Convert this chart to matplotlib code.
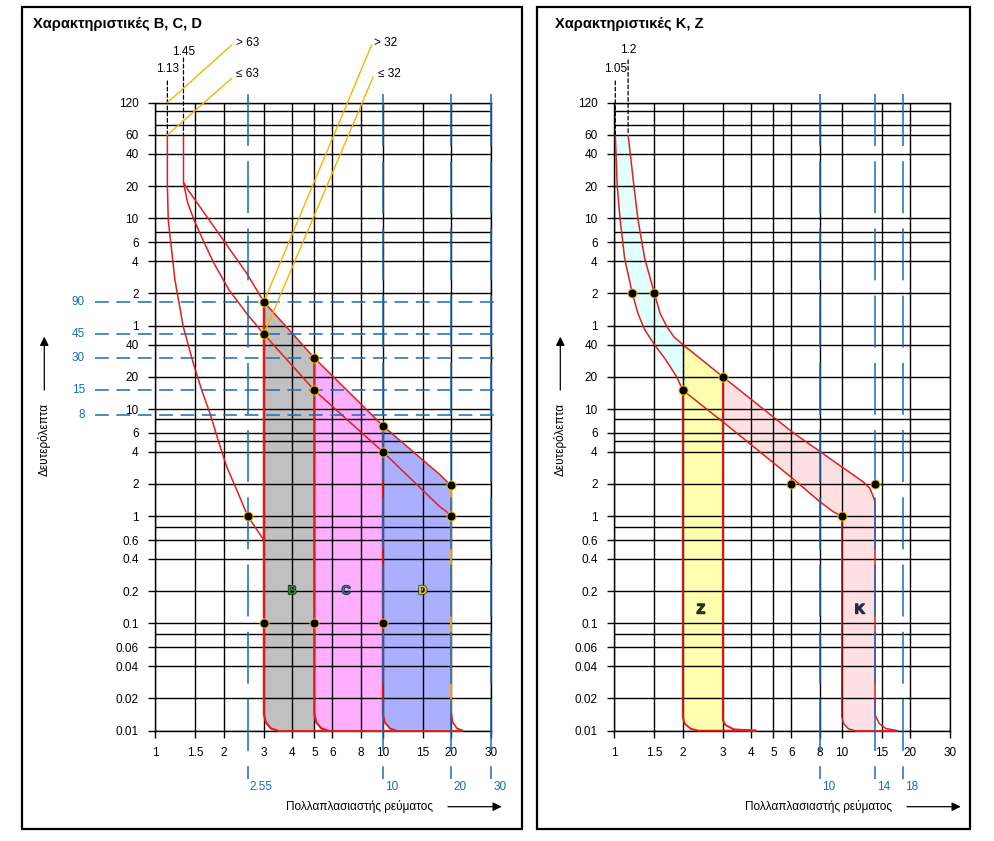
import matplotlib
matplotlib.use("Agg")
import matplotlib.pyplot as plt
import matplotlib.patheffects as pe
from matplotlib.patches import Rectangle
from matplotlib.ticker import NullFormatter

plt.rcParams["font.family"] = ["Liberation Sans", "DejaVu Sans"]

RED = "#e0201c"
BLUE = "#1a6bb5"
YEL = "#f5b400"

# axes: x = multiple of rated current, y = time in seconds (upper part labelled in minutes)
x_ticks = [1, 1.5, 2, 3, 4, 5, 6, 8, 10, 15, 20, 30]
x_labels = ["1", "1.5", "2", "3", "4", "5", "6", "8", "10", "15", "20", "30"]
y_ticks = [7200, 3600, 2400, 1200, 600, 360, 240, 120, 60, 40, 20, 10, 6, 4, 2, 1,
           0.6, 0.4, 0.2, 0.1, 0.06, 0.04, 0.02, 0.01]
y_labels = ["120", "60", "40", "20", "10", "6", "4", "2", "1", "40", "20", "10", "6", "4",
            "2", "1", "0.6", "0.4", "0.2", "0.1", "0.06", "0.04", "0.02", "0.01"]
y_minor = [6000, 4500, 450, 8, 5, 0.8, 0.08]

# ---- left panel: B, C, D
bcd_thr_x = [1.13, 1.33]
bcd_thr_labels = ["1.13", "1.45"]
therm_x = [1.13, 1.13, 1.14, 1.22, 1.327, 1.469, 1.6, 1.74, 1.89, 2.06, 2.28, 2.55, 3]
therm_s = [3600, 1200, 580, 160, 58.6, 26.7, 15, 9.1, 5.1, 2.9, 1.76, 1.0, 0.6]
upper_x = [1.33, 1.33, 1.41, 1.57, 1.81, 2.11, 2.52, 3, 5, 10, 17.8, 19.4, 20]
upper_s = [3600, 1300, 1065, 771, 502, 316, 185, 100, 30, 7, 2.45, 2.05, 1.85]
lower_x = [1.33, 1.34, 1.39, 1.48, 1.62, 1.81, 2.11, 2.52, 3, 5, 10, 17.8, 19.1, 20, 20]
lower_s = [1300, 1185, 830, 580, 377, 229, 129, 78, 50, 15, 4, 1.23, 1.1, 1.0, 0.7]
edge_B_x = [3, 3, 3.06, 3.22, 3.46]
edge_B_s = [100, 0.0144, 0.012, 0.0105, 0.01]
edge_C_x = [5, 5, 5.1, 5.37, 5.77]
edge_C_s = [30, 0.0144, 0.012, 0.0105, 0.01]
edge_D_x = [10, 10, 10.2, 10.74, 11.5]
edge_D_s = [7, 0.0144, 0.012, 0.0105, 0.01]
edge_Dr_x = [20, 20, 20.3, 21.2, 22.6]
edge_Dr_s = [1.85, 0.0144, 0.012, 0.0105, 0.01]
bcd_dots_x = [3, 3, 5, 5, 10, 10, 20, 20, 2.55, 3, 5, 10]
bcd_dots_s = [100, 50, 30, 15, 7, 4, 1.95, 1, 1, 0.1, 0.1, 0.1]
bcd_blue_v = [2.55, 10, 20, 30]
bcd_blue_v_labels = ["2.55", "10", "20", "30"]
bcd_blue_h = [100, 50, 30, 15, 8.8]
bcd_blue_h_labels = ["90", "45", "30", "15", "8"]
yel_labels = ["> 63", "≤ 63", "> 32", "≤ 32"]
yel_x = [1.13, 1.13, 3, 3]
yel_s = [7200, 3600, 100, 50]

# ---- right panel: K, Z
kz_thr_x = [1.01, 1.15]
kz_thr_labels = ["1.05", "1.2"]
kz_lo_x = [1.01, 1.03, 1.06, 1.11, 1.2, 1.27, 1.36, 1.5, 1.68, 1.88, 2, 3, 5.95, 8, 9.19,
           10, 10, 10, 10.2, 10.7, 11.4]
kz_lo_s = [3600, 1200, 590, 255, 120, 78, 55, 40, 29, 20, 15, 7.6, 2.34, 1.37, 1.1,
           1, 0.8, 0.0135, 0.0116, 0.0104, 0.01]
kz_hi_x = [1.15, 1.22, 1.27, 1.36, 1.5, 1.59, 1.7, 1.83, 2, 3, 6.03, 9.75, 12.4, 13.3,
           13.76, 14, 14, 14.6, 15.6, 17.6]
kz_hi_s = [3600, 1200, 590, 255, 120, 78, 59, 47, 40, 20, 6.15, 3.0, 2.1, 1.82,
           1.52, 1.37, 0.014, 0.0117, 0.0105, 0.01]
edge_Z_x = [2, 2, 2.04, 2.17, 2.35, 4.2, 3.35, 3.08, 3, 3]
edge_Z_s = [15, 0.0135, 0.0116, 0.0104, 0.01, 0.01, 0.0103, 0.0113, 0.0126, 20]
kz_dots_x = [1.2, 1.5, 2, 3, 6, 14, 10]
kz_dots_s = [120, 120, 15, 20, 2, 2, 1]
kz_blue_v = [8, 14, 18.5]
kz_blue_v_labels = ["10", "14", "18"]


def setup_axes(ax):
    ax.set_xscale("log")
    ax.set_yscale("log")
    ax.set_xlim(1, 30)
    ax.set_ylim(0.01, 7200)
    ax.set_xticks(x_ticks, x_labels)
    ax.set_yticks(y_ticks, y_labels)
    ax.set_xticks([], minor=True)
    ax.set_yticks(y_minor, minor=True)
    ax.xaxis.set_minor_formatter(NullFormatter())
    ax.yaxis.set_minor_formatter(NullFormatter())
    ax.tick_params(which="major", length=5, width=1, pad=7, labelsize=8.5)
    ax.tick_params(which="minor", length=0)
    ax.grid(True, which="both", color="k", lw=1)
    ax.set_axisbelow(False)
    for sp in ax.spines.values():
        sp.set_linewidth(1)


def red(ax, x, s, lw=1.1, color=RED):
    ax.plot(x, s, color=color, lw=lw, zorder=3, clip_on=False, solid_capstyle="butt")


def common_text(ax, title, title_x, ylab_x):
    ax.text(title_x, 1.1253, title, transform=ax.transAxes, fontsize=10.5,
            fontweight="bold", ha="left", va="center")
    ax.text(0.6083, -0.121, "Πολλαπλασιαστής ρεύματος", transform=ax.transAxes,
            fontsize=8.5, ha="center", va="center")
    ax.annotate("", xy=(1.031, -0.121), xytext=(0.871, -0.121), xycoords="axes fraction",
                arrowprops=dict(arrowstyle="-|>", color="k", lw=0.9, mutation_scale=13,
                                shrinkA=0, shrinkB=0))
    ax.text(ylab_x, 0.4645, "Δευτερόλεπτα", transform=ax.transAxes, fontsize=8.5,
            rotation=90, ha="center", va="center")
    ax.annotate("", xy=(ylab_x, 0.6274), xytext=(ylab_x, 0.5425), xycoords="axes fraction",
                arrowprops=dict(arrowstyle="-|>", color="k", lw=0.9, mutation_scale=13,
                                shrinkA=0, shrinkB=0))


def thresholds(ax, xs, labels, tops, label_y):
    for x, lbl, top, ly in zip(xs, labels, tops, label_y):
        ax.annotate("", xy=(x, 3600), xytext=(x, top), textcoords=("data", "axes fraction"),
                    arrowprops=dict(arrowstyle="-", color="k", lw=0.9, ls=(0, (3, 2)),
                                    shrinkA=0, shrinkB=0), zorder=4)
        ax.text(x, ly, lbl, transform=ax.get_xaxis_transform(), fontsize=8.5,
                ha="center", va="center")


def blue_verticals(ax, xs, labels):
    tr = ax.get_xaxis_transform()
    for x, lbl in zip(xs, labels):
        ax.plot([x, x], [1.0134, -0.077], transform=tr, color=BLUE, lw=1.1,
                ls=(0, (34, 10)), clip_on=False, zorder=3.2)
        ax.annotate(lbl, xy=(x, -0.0896), xycoords=tr, xytext=(1.5, 0),
                    textcoords="offset points", color=BLUE, fontsize=8.5,
                    ha="left", va="center")


def label(ax, x, s, txt, color, size=9):
    ax.text(x, s, txt, color=color, fontsize=size, fontweight="bold", ha="center",
            va="center", zorder=6,
            path_effects=[pe.withStroke(linewidth=1.0, foreground="#222222")])


fig = plt.figure(figsize=(9.94, 8.41), dpi=100)
for x0, w in [(0.0218, 0.5031), (0.54, 0.4355)]:
    fig.patches.append(Rectangle((x0, 0.0139), w, 0.9781, transform=fig.transFigure,
                                 fill=False, ec="k", lw=1.6))

# ================= left panel
ax = fig.add_axes([0.15624, 0.13115, 0.33803, 0.74673])
setup_axes(ax)

ax.fill(upper_x[7:9] + [5] + edge_B_x[1:][::-1], upper_s[7:9] + [0.01] + edge_B_s[1:][::-1],
        color="#c0c0c0", lw=0, zorder=1)
ax.fill(upper_x[8:10] + [10] + edge_C_x[1:][::-1], upper_s[8:10] + [0.01] + edge_C_s[1:][::-1],
        color="#ffaeff", lw=0, zorder=1)
ax.fill(upper_x[9:] + [20] + edge_D_x[1:][::-1], upper_s[9:] + [0.01] + edge_D_s[1:][::-1],
        color="#aab0ff", lw=0, zorder=1)

red(ax, therm_x, therm_s)
red(ax, upper_x, upper_s)
red(ax, lower_x, lower_s)
red(ax, edge_B_x, edge_B_s, lw=1.6)
red(ax, edge_C_x, edge_C_s, lw=1.6)
red(ax, edge_D_x, edge_D_s, lw=1.4)
red(ax, edge_Dr_x[:2], edge_Dr_s[:2], lw=1.4, color="#f0a020")
red(ax, edge_Dr_x[1:], edge_Dr_s[1:], lw=1.2)
red(ax, [edge_B_x[-1], edge_Dr_x[-1]], [0.01, 0.01], lw=1.4)

thresholds(ax, bcd_thr_x, bcd_thr_labels, [1.0346, 1.0712], [1.0537, 1.0812])
blue_verticals(ax, bcd_blue_v, bcd_blue_v_labels)

ytr = ax.get_yaxis_transform()
for s, lbl in zip(bcd_blue_h, bcd_blue_h_labels):
    ax.plot([-0.1795, 1.0125], [s, s], transform=ytr, color=BLUE, lw=1.1,
            ls=(0, (9, 5)), clip_on=False, zorder=3.2)
    ax.text(-0.2092, s, lbl, transform=ytr, color=BLUE, fontsize=8.5, ha="right", va="center")

# yellow call-outs
yel_text_pos = [(0.2393, 1.0955), (0.2393, 1.0452), (0.6509, 1.0955), (0.6628, 1.0452)]
yel_line_start = [(0.2274, 1.0919), (0.2274, 1.0389), (0.644, 1.0919), (0.6488, 1.0414)]
for lbl, x, s, tp, ls_ in zip(yel_labels, yel_x, yel_s, yel_text_pos, yel_line_start):
    ax.annotate("", xy=(x, s), xytext=ls_, textcoords="axes fraction",
                arrowprops=dict(arrowstyle="-", color=YEL, lw=1.0, shrinkA=0, shrinkB=0),
                zorder=4)
    ax.text(tp[0], tp[1], lbl, transform=ax.transAxes, fontsize=8.5, ha="left", va="center")

ax.plot(bcd_dots_x, bcd_dots_s, "o", ms=6.5, mfc="k", mec="#f2c200", mew=0.7, ls="none",
        zorder=6, clip_on=False)
label(ax, 4, 0.2, "B", "#2e8b2e")
label(ax, 6.9, 0.2, "C", "#1f7ab8")
label(ax, 15, 0.2, "D", "#e8d200")
common_text(ax, "Χαρακτηριστικές B, C, D", -0.363, -0.3304)

# ================= right panel
ax = fig.add_axes([0.61801, 0.13115, 0.33803, 0.74673])
setup_axes(ax)

ax.fill(kz_lo_x[:11] + kz_hi_x[:9][::-1], kz_lo_s[:11] + kz_hi_s[:9][::-1],
        color="#e0ffff", lw=0, zorder=1)
ax.fill(kz_hi_x[8:10] + [3] + edge_Z_x[1:5][::-1], kz_hi_s[8:10] + [0.01] + edge_Z_s[1:5][::-1],
        color="#ffffb0", lw=0, zorder=1)
ax.fill(kz_hi_x[9:16] + [14] + kz_lo_x[11:][::-1], kz_hi_s[9:16] + [0.01] + kz_lo_s[11:][::-1],
        color="#ffe0e2", lw=0, zorder=1)

red(ax, kz_lo_x, kz_lo_s)
red(ax, kz_hi_x, kz_hi_s)
red(ax, edge_Z_x, edge_Z_s, lw=1.4)
red(ax, [kz_lo_x[-1], kz_hi_x[-1]], [0.01, 0.01], lw=1.4)
ax.plot([2, 2], [40, 15], color="k", lw=0.9, ls=(0, (3, 2)), zorder=3.5)

thresholds(ax, kz_thr_x, kz_thr_labels, [1.0346, 1.068], [1.0537, 1.0834])
blue_verticals(ax, kz_blue_v, kz_blue_v_labels)

ax.plot(kz_dots_x, kz_dots_s, "o", ms=6.5, mfc="k", mec="#f2c200", mew=0.7, ls="none",
        zorder=6, clip_on=False)
label(ax, 2.4, 0.135, "Z", "#1e3a1e", size=10)
label(ax, 12, 0.135, "K", "#1c2f4f", size=10)
common_text(ax, "Χαρακτηριστικές K, Z", -0.1756, -0.1607)

fig.savefig("out.png", dpi=100)
